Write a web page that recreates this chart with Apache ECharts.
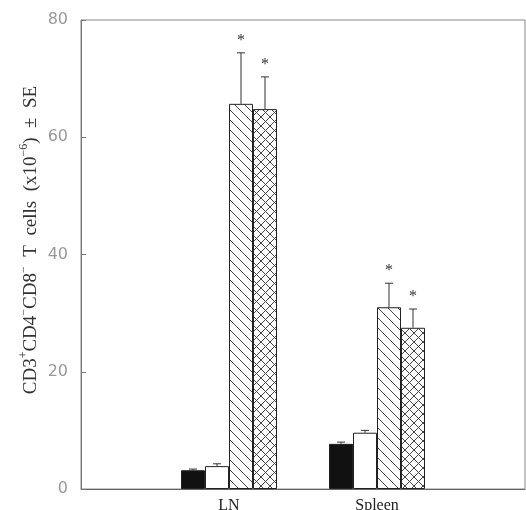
<!DOCTYPE html>
<html>
<head>
<meta charset="utf-8">
<script src="https://cdn.jsdelivr.net/npm/echarts@6/dist/echarts.min.js"></script>
<style>
  html, body { margin: 0; padding: 0; background: #fff; }
  #main { width: 526px; height: 510px; }
</style>
</head>
<body>
<div id="main"></div>
<script>
// categories (empty ends keep the groups where the figure has them)
const categories = ['', 'LN', 'Spleen', '']
// mean values
const blackVals = [null, 3.2, 7.7, null]
const whiteVals = [null, 3.9, 9.6, null]
const diagVals = [null, 65.7, 31.0, null]
const crossVals = [null, 64.8, 27.5, null]
// SE (length of error bar above the mean)
const blackSE = [null, 0.2, 0.3, null]
const whiteSE = [null, 0.4, 0.4, null]
const diagSE = [null, 8.7, 4.1, null]
const crossSE = [null, 5.5, 3.2, null]
// asterisk marks per series
const starred = [false, false, true, true]
const yTicks = [0, 20, 40, 60, 80]

// hatch patterns
function makeHatch(cross) {
  let c = document.createElement('canvas')
  let s = cross ? 9 : 10
  c.width = s
  c.height = s
  let ctx = c.getContext('2d')
  ctx.fillStyle = '#fff'
  ctx.fillRect(0, 0, s, s)
  ctx.strokeStyle = '#444'
  ctx.lineWidth = 1
  ctx.beginPath()
  ctx.moveTo(-1, -1); ctx.lineTo(s + 1, s + 1)
  ctx.moveTo(-2, s - 2); ctx.lineTo(2, s + 2)
  ctx.moveTo(s - 2, -2); ctx.lineTo(s + 2, 2)
  if (cross) {
    ctx.moveTo(s + 1, -1); ctx.lineTo(-1, s + 1)
    ctx.moveTo(-2, 2); ctx.lineTo(2, -2)
    ctx.moveTo(s - 2, s + 2); ctx.lineTo(s + 2, s - 2)
  }
  ctx.stroke()
  return c
}

const barW = 24
const allVals = [blackVals, whiteVals, diagVals, crossVals]
const allSE = [blackSE, whiteSE, diagSE, crossSE]
const fills = ['#111', '#fff', { image: makeHatch(false), repeat: 'repeat' }, { image: makeHatch(true), repeat: 'repeat' }]

// error bar items: [category index, mean, se, series index]
let errData = []
for (let s = 0; s < allVals.length; s++) {
  for (let i = 0; i < categories.length; i++) {
    if (allVals[s][i] != null) errData.push([i, allVals[s][i], allSE[s][i], s])
  }
}

let myChart = echarts.init(document.getElementById('main'))

let series = allVals.map(function (vals, s) {
  return {
    type: 'bar',
    data: vals,
    barWidth: barW,
    barGap: '0%',
    itemStyle: { color: fills[s], borderColor: '#222', borderWidth: 1 },
    silent: true
  }
})

series.push({
  type: 'custom',
  z: 5,
  data: errData,
  renderItem: function (params, api) {
    let cat = api.value(0)
    let mean = api.value(1)
    let se = api.value(2)
    let s = api.value(3)
    let cx = api.coord([cat, 0])[0] + (s - 1.5) * barW
    let yB = api.coord([cat, mean])[1]
    let yT = api.coord([cat, mean + se])[1]
    let kids = [
      { type: 'line', shape: { x1: cx, y1: yB, x2: cx, y2: yT }, style: { stroke: '#333', lineWidth: 1 } },
      { type: 'line', shape: { x1: cx - 4, y1: yT, x2: cx + 4, y2: yT }, style: { stroke: '#333', lineWidth: 1 } }
    ]
    if (starred[s]) {
      kids.push({
        type: 'text',
        style: { text: '*', x: cx, y: yT - 4, align: 'center', verticalAlign: 'bottom', fontSize: 16, fontFamily: 'Liberation Serif', fill: '#333' }
      })
    }
    return { type: 'group', children: kids }
  }
})

let option = {
  animation: false,
  grid: { left: 81, right: 1, top: 20, bottom: 21, show: true, borderColor: '#888', borderWidth: 1, outerBoundsMode: 'none', containLabel: false },
  xAxis: {
    type: 'category',
    data: categories,
    boundaryGap: false,
    axisLine: { lineStyle: { color: '#666' } },
    axisTick: { show: false },
    axisLabel: { color: '#222', fontFamily: 'Liberation Serif', fontSize: 16, margin: 9 },
    splitLine: { show: false }
  },
  yAxis: {
    type: 'value',
    min: yTicks[0],
    max: yTicks[yTicks.length - 1],
    interval: 20,
    axisLine: { show: true, lineStyle: { color: '#777' } },
    axisTick: { show: true, inside: true, length: 5, lineStyle: { color: '#777' } },
    axisLabel: { color: '#999', fontFamily: 'DejaVu Sans', fontSize: 16, margin: 13 },
    splitLine: { show: false }
  },
  graphic: [{
    type: 'text',
    x: 31,
    y: 240,
    rotation: Math.PI / 2,
    style: {
      text: '{n|CD3}{s|+}{n|CD4}{s|−}{n|CD8}{s|−}{n|  T  cells  (x10}{s|−6}{n|)  ±  SE}',
      align: 'center',
      verticalAlign: 'middle',
      fill: '#333',
      rich: {
        n: { fontFamily: 'Liberation Serif', fontSize: 19, fill: '#333' },
        s: { fontFamily: 'Liberation Serif', fontSize: 12, fill: '#333', padding: [0, 0, 14, 0] }
      }
    }
  }],
  series: series
}

myChart.setOption(option)
</script>
</body>
</html>
